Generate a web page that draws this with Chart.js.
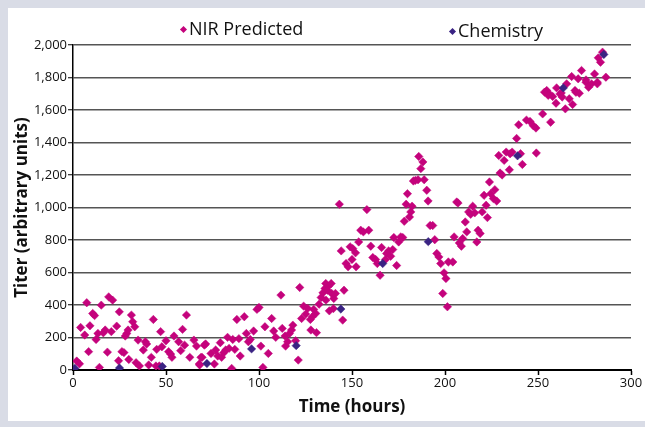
<!DOCTYPE html>
<html><head><meta charset="utf-8">
<script src="https://cdn.jsdelivr.net/npm/chart.js"></script>
<style>
html,body{margin:0;padding:0;background:#d9dce6;width:645px;height:427px;overflow:hidden;}
#panel{position:absolute;left:8px;top:8px;width:637px;height:413px;background:#fff;}
#c{position:absolute;left:0;top:0;}
.leg{position:absolute;font-family:'Open Sans',sans-serif;font-size:18px;color:#111;white-space:nowrap;line-height:22px;}
.dia{display:inline-block;width:5px;height:5px;transform:rotate(45deg);margin-right:3px;vertical-align:middle;position:relative;top:-1px;}
</style></head>
<body><div id="panel"><canvas id="c" width="637" height="413"></canvas>
<div class="leg" id="leg1" style="left:173px;top:9px"><span class="dia" style="background:#c4037c"></span>NIR Predicted</div>
<div class="leg" id="leg2" style="left:442px;top:11px"><span class="dia" style="background:#3a2383"></span>Chemistry</div>
</div>
<script>
// NIR Predicted series: time (hours) and titer values
const nirTime = [2,3.5,7.4,4.1,6.3,8.4,9.1,10.6,11.6,12.4,13.4,14.2,15.2,16.3,17.3,18.5,19.2,20.6,21.3,23.5,24.9,24.5,26.3,27.4,28.9,29.6,28.1,30,31.4,32.1,33.2,33.9,35,35.7,37.8,38.9,39.6,40.7,42.1,43.2,44.6,45,46.4,47.1,47.8,50,51.4,52.5,53.2,54.3,56.8,57.9,58.9,60,61,62.8,65,66.4,67.9,69.4,70.6,
68.8,68.1,71.3,74.2,76,76.7,77.8,79.2,79.9,81,82.1,83.1,83.9,85.3,85.9,87,88.1,89.2,89.9,92.1,93.2,94.3,95.3,97.1,98.9,100,101,102.1,103.2,105,106.8,107.9,109,111.8,112.5,114,114.3,115.4,116.4,117.5,118.2,119.7,121.1,121.9,122.9,124,125.1,126.2,127.6,128.7,129.4,130.5,127.9,130.9,132.3,133.4,134.4,135.5,135.9,137.3,138.8,139.1,140.2,
136.8,136,137.8,140,141.1,143.2,144.2,145,145.7,146.8,147.9,149,150,150.4,151.9,152.2,153.6,154.7,156.1,158,159,160.1,161.2,162.7,163.6,165.1,165.9,168,168.6,169.7,170.8,171.9,172.5,174,175.1,176.2,177.3,178.1,179.1,179.8,180.9,181.6,182.3,183,184.1,185.5,185.9,187,188.1,188.8,190.2,190.9,192,193.4,194.5,195.6,196.7,197.7,198.8,199.5,200.5,201.3,201.8,
204.2,204.9,206.3,207,207.7,208.8,209.5,210.9,211.7,212.7,213.8,214.9,216,217.1,217.8,218.9,220,221,222.1,222.8,223.9,224.6,226,226.8,227.8,229.6,230.7,228.9,231.8,232.9,234.6,236.1,235,240.6,241.6,249.1,
238.5,239.6,243.8,245.7,247.5,248.9,252.5,254.7,256.1,256.8,257.9,259.7,260,261.8,264.7,265.4,266.8,268.6,268.1,270.4,271.6,273.4,275.8,277.2,278.8,280.4,281.9,282.4,283.6,284.7,286.5,253.5,255.5,262.5,263,272.2,269.9,275.8,281.9];
const nirTiter = [55,38,414,262,215,113,272,348,335,188,225,16,399,229,246,110,450,236,430,270,358,57,113,107,225,246,209,65,338,297,266,45,184,25,123,174,160,31,78,311,25,127,25,236,143,180,113,98,78,209,174,119,250,153,338,78,184,147,37,78,153,
78,31,160,102,37,123,86,168,78,106,123,201,133,10,188,127,311,193,86,328,225,174,188,240,373,385,147,16,266,102,317,240,201,461,256,209,147,174,225,246,276,180,61,508,317,393,344,379,311,328,373,348,246,230,405,446,475,502,532,516,532,471,440,
491,430,364,378,471,1020,733,307,491,655,635,758,680,747,721,635,788,860,850,987,860,762,692,680,655,583,754,680,717,733,700,741,815,643,788,819,815,915,1020,1085,942,973,1008,1163,1167,1171,1314,1239,1280,1171,1106,1040,889,889,802,717,696,655,471,598,563,389,665,
665,819,1034,1028,782,762,809,911,850,973,958,1008,967,788,860,840,973,1075,1014,938,1157,1085,1055,1110,1040,1212,1200,1320,1290,1341,1232,1341,1331,1331,1265,1335,
1425,1509,1538,1530,1503,1489,1576,1720,1699,1525,1683,1642,1736,1699,1607,1761,1669,1634,1806,1709,1792,1843,1771,1740,1761,1822,1771,1921,1894,1956,1802,1710,1690,1705,1680,1703,1720,1785,1761];
// Chemistry reference series
const chemTime = [1,25,48,72,96,120,144,166.5,191,239,263.6,285.4];
const chemTiter = [10,12,22,40,130,150,375,655,790,1318,1736,1942];
// axis ticks
const xTickStep = 50;
const yTickStep = 200;

const nirPts = nirTime.map((t,i)=>({x:t,y:nirTiter[i]}));
const chemPts = chemTime.map((t,i)=>({x:t,y:chemTiter[i]}));
const FONT = "'Open Sans', sans-serif";

new Chart(document.getElementById('c'), {
  type: 'scatter',
  data: { datasets: [
    { label: 'Chemistry', data: chemPts, order: 0, pointStyle: 'rectRot', pointRadius: 4.2,
      backgroundColor: '#3a2383', borderColor: '#3a2383', borderWidth: 0.5 },
    { label: 'NIR Predicted', data: nirPts, order: 1, pointStyle: 'rectRot', pointRadius: 4.2,
      backgroundColor: '#c4037c', borderColor: '#c4037c', borderWidth: 0.5 }
  ]},
  options: {
    responsive: false, animation: false, events: [],
    layout: { padding: { top: 37, right: 14, left: 0, bottom: 0 } },
    plugins: { legend: { display: false }, tooltip: { enabled: false } },
    scales: {
      x: {
        type: 'linear', min: 0, max: 300,
        ticks: { stepSize: xTickStep, color: '#111', font: { family: FONT, size: 13 }, padding: 0, maxRotation: 0 },
        grid: { drawOnChartArea: false, drawTicks: true, tickLength: 5, tickColor: '#000', tickWidth: 1.5 },
        border: { color: '#000', width: 2 },
        title: { display: true, text: 'Time (hours)', color: '#111', font: { family: FONT, size: 17, weight: 'bold' }, padding: { top: 0, bottom: 4 } },
        afterFit: s => { s.height = 51; }
      },
      y: {
        min: 0, max: 2000,
        ticks: { stepSize: yTickStep, color: '#111', font: { family: FONT, size: 13 }, padding: 1 },
        grid: { color: '#555', lineWidth: 1.5, drawTicks: true, tickLength: 5, tickColor: '#000', tickWidth: 1 },
        border: { color: '#000', width: 1.5 },
        title: { display: true, text: 'Titer (arbitrary units)', color: '#111', font: { family: FONT, size: 17, weight: 'bold' }, padding: { top: 4, bottom: 0 } },
        afterFit: s => { s.width = 65; }
      }
    }
  }
});
</script>
</body></html>
